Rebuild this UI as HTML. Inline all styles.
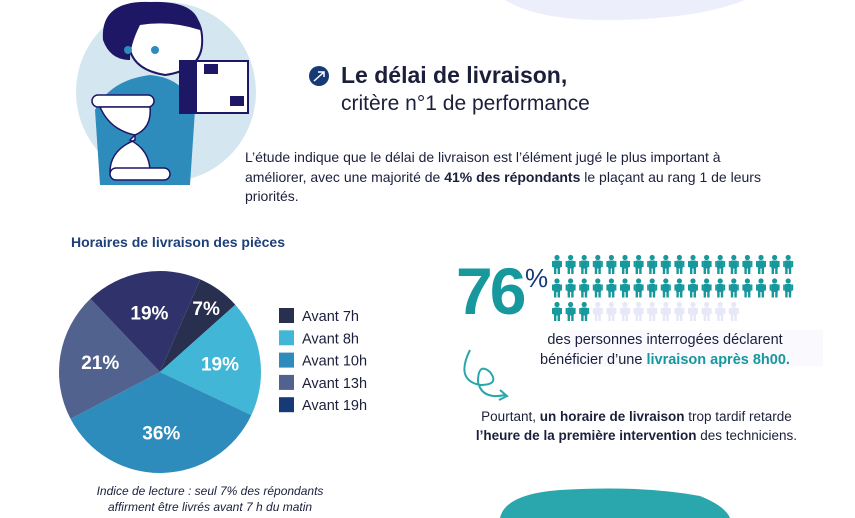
<!DOCTYPE html>
<html><head><meta charset="utf-8">
<style>
body{margin:0;width:855px;height:518px;overflow:hidden;background:#fff;font-family:"Liberation Sans",sans-serif;position:relative}
.abs{position:absolute}
</style></head><body>
<svg class="abs" style="left:0;top:0" width="855" height="518">
<path d="M505 0 Q540 22 620 20 Q700 18 745 0 Z" fill="#eceefb"/>
<path d="M500 518 Q505 494 560 490 Q640 485 700 496 Q725 506 730 518 Z" fill="#2aa6ad"/>
<g>
<circle cx="166" cy="92" r="90" fill="#d4e6f0"/>
<path d="M100 185 L95 110 Q110 80 150 75 Q185 78 195 110 L190 185 Z" fill="#2e8cbc"/>
<path d="M130 50 Q120 10 160 5 Q205 5 202 45 Q200 70 165 75 Q135 70 130 50Z" fill="#fff" stroke="#1d1766" stroke-width="2"/>
<path d="M103 40 Q100 0 150 2 Q200 0 200 30 Q170 20 140 25 Q130 45 130 60 Q110 60 103 40Z" fill="#1d1766"/>
<circle cx="128" cy="50" r="4" fill="#2e8cbc"/><circle cx="155" cy="50" r="4" fill="#2e8cbc"/>
<rect x="180" y="61" width="68" height="52" fill="#fff" stroke="#1d1766" stroke-width="2"/>
<rect x="180" y="61" width="17" height="52" fill="#1d1766"/>
<rect x="204" y="64" width="14" height="10" fill="#1d1766"/><rect x="230" y="96" width="14" height="10" fill="#1d1766"/>
<rect x="92" y="95" width="62" height="12" rx="6" fill="#fff" stroke="#1d1766" stroke-width="1.5"/>
<path d="M100 107 Q110 130 135 135 L135 140 Q110 150 110 172 L150 172 Q150 150 130 140 L135 135 Q152 128 150 107Z" fill="#fff" stroke="#1d1766" stroke-width="1.5"/>
<rect x="110" y="168" width="60" height="12" rx="6" fill="#fff" stroke="#1d1766" stroke-width="1.5"/>
</g>
<g>
<circle cx="319" cy="76" r="10" fill="#163a75"/>
<path d="M314 81 L324 72 M318 72 L324 72 L324 77" stroke="#fff" stroke-width="1.5" fill="none"/>
</g>
<path d="M470 350 Q455 380 480 385 Q500 385 490 372 Q478 362 478 382 Q482 400 505 395" stroke="#2aa6ad" stroke-width="2" fill="none"/>
<path d="M500 390 L507 396 L499 400" stroke="#2aa6ad" stroke-width="2" fill="none"/>
<rect x="565" y="330" width="258" height="36" fill="#f9f9fe"/>
</svg>

<div class="abs" style="left:341px;top:62px;font-size:23px;font-weight:bold;color:#1b1f3b">Le délai de livraison,</div>
<div class="abs" style="left:341px;top:92px;font-size:21px;color:#1b1f3b">critère n°1 de performance</div>
<div class="abs" style="left:245px;top:148px;width:600px;font-size:14px;line-height:19.5px;color:#1b1f3b;white-space:nowrap">L’étude indique que le délai de livraison est l’élément jugé le plus important à<br>améliorer, avec une majorité de <b>41% des répondants</b> le plaçant au rang 1 de leurs<br>priorités.</div>

<div class="abs" style="left:71px;top:234px;font-size:14px;font-weight:bold;color:#1e3f78">Horaires de livraison des pièces</div>

<svg class="abs" id="pie" style="left:0;top:0" width="420" height="518"></svg>

<div class="abs" style="left:60px;top:483px;width:300px;text-align:center;font-size:12px;font-style:italic;line-height:16px;color:#1b1f3b;white-space:nowrap">Indice de lecture : seul 7% des répondants<br>affirment être livrés avant 7 h du matin</div>

<div class="abs" style="left:456px;top:256px;font-size:66px;font-weight:bold;color:#17989d;letter-spacing:-3px;line-height:70px">76</div>
<div class="abs" style="left:525px;top:263px;font-size:26px;color:#163a75">%</div>
<svg class="abs" id="people" style="left:550px;top:250px" width="260" height="80"></svg>

<div class="abs" style="left:505px;top:330px;width:320px;text-align:center;font-size:14.5px;line-height:20px;color:#1b1f3b;white-space:nowrap">des personnes interrogées déclarent<br>bénéficier d’une <b style="color:#17989d">livraison après 8h00.</b></div>
<div class="abs" style="left:444px;top:407px;width:385px;text-align:center;font-size:13.5px;line-height:19px;color:#1b1f3b;white-space:nowrap">Pourtant, <b>un horaire de livraison</b> trop tardif retarde<br><b>l’heure de la première intervention</b> des techniciens.</div>

<script>
const categories=["Avant 7h","Avant 8h","Avant 10h","Avant 13h","Avant 19h"];
const values=[7,19,36,21,19];
const labels=["7%","19%","36%","21%","19%"];
const colors=["#29304f","#41b6d6","#2e8cbc","#52628f","#30336b"];
const legendColors=["#29304f","#41b6d6","#2e8cbc","#52628f","#163a75"];
const ns="http://www.w3.org/2000/svg";
const svg=document.getElementById("pie");
const cx=160,cy=372,r=101,start=23.5;
const total=values.reduce((a,b)=>a+b,0);
function pt(deg,rad){const a=(deg-90)*Math.PI/180;return [cx+rad*Math.cos(a),cy+rad*Math.sin(a)];}
let ang=start;
values.forEach((v,i)=>{
  const sweep=v/total*360;
  const p1=pt(ang,r),p2=pt(ang+sweep,r);
  const path=document.createElementNS(ns,"path");
  path.setAttribute("d",`M${cx},${cy} L${p1[0]},${p1[1]} A${r},${r} 0 ${sweep>180?1:0} 1 ${p2[0]},${p2[1]} Z`);
  path.setAttribute("fill",colors[i]);
  
  
  svg.appendChild(path);
  const lr=v<10?r*0.78:r*0.6;
  const lp=pt(ang+sweep/2,lr);
  const t=document.createElementNS(ns,"text");
  t.setAttribute("x",lp[0]);t.setAttribute("y",lp[1]+7);
  t.setAttribute("text-anchor","middle");t.setAttribute("fill","#fff");
  t.setAttribute("font-size","19");t.setAttribute("font-weight","bold");
  t.setAttribute("font-family","Liberation Sans, sans-serif");
  t.textContent=labels[i];
  
  
  svg.appendChild(t);
  ang+=sweep;
});
categories.forEach((c,i)=>{
  const y=308+i*22.3;
  const rc=document.createElementNS(ns,"rect");
  rc.setAttribute("x",279);rc.setAttribute("y",y);rc.setAttribute("width",15);rc.setAttribute("height",15);
  rc.setAttribute("fill",legendColors[i]);
  
  
  svg.appendChild(rc);
  const t=document.createElementNS(ns,"text");
  t.setAttribute("x",302);t.setAttribute("y",y+13);t.setAttribute("font-size","14.5");
  t.setAttribute("fill","#1b1f3b");t.setAttribute("font-family","Liberation Sans, sans-serif");
  t.textContent=c;
  
  
  svg.appendChild(t);
});
const pSvg=document.getElementById("people");
const rowCounts=[18,18,14];
const filled=39;
let n=0;
rowCounts.forEach((cnt,row)=>{
  for(let k=0;k<cnt;k++){
    const x=7+k*13.6,y=5+row*23.5;
    const col=n<filled?"#17989d":"#e6e8f8";
    const g=document.createElementNS(ns,"g");
    g.setAttribute("fill",col);
    g.innerHTML=`<circle cx="${x}" cy="${y+2.5}" r="2.6"/><rect x="${x-3.5}" y="${y+5.5}" width="7" height="8" rx="1.5"/><rect x="${x-5}" y="${y+6}" width="1.6" height="6"/><rect x="${x+3.4}" y="${y+6}" width="1.6" height="6"/><rect x="${x-3}" y="${y+12}" width="2.4" height="7"/><rect x="${x+0.6}" y="${y+12}" width="2.4" height="7"/>`;
    
    
    pSvg.appendChild(g);
    n++;
  }
});
</script>
</body></html>
